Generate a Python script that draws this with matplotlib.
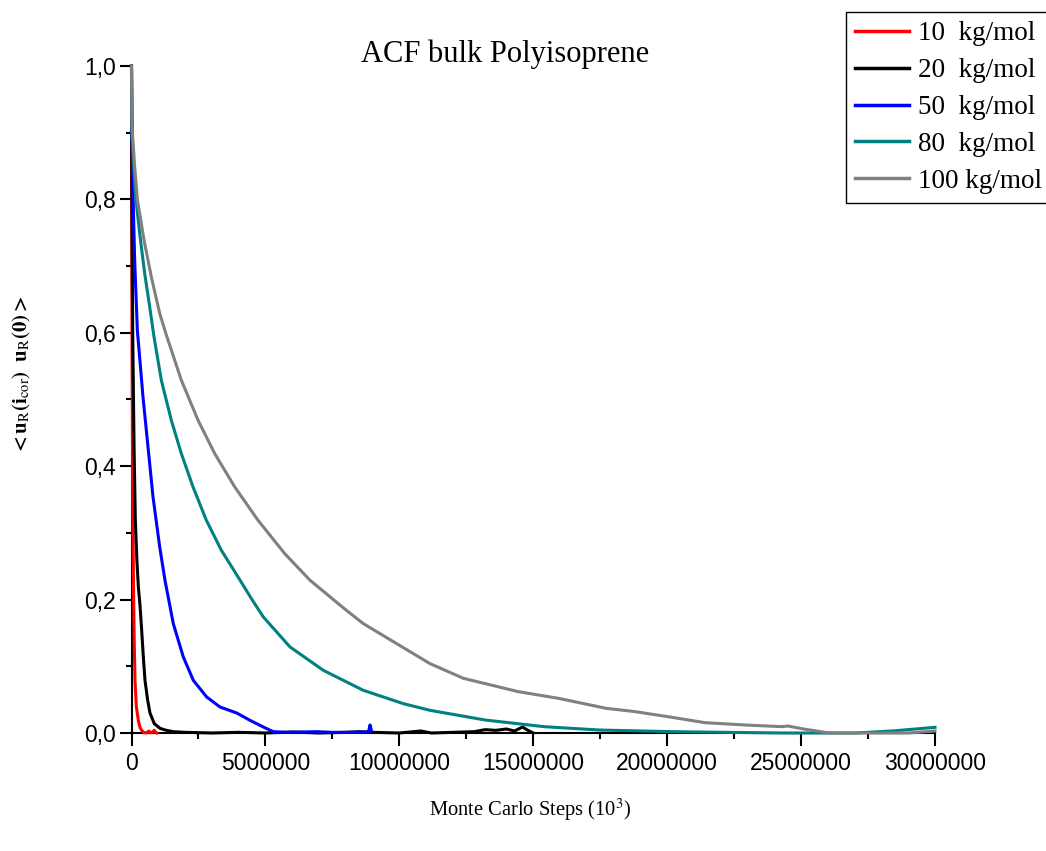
import numpy as np
import matplotlib
matplotlib.use('Agg')
import matplotlib.pyplot as plt
from matplotlib.ticker import FuncFormatter, MultipleLocator

plt.rcParams['font.family'] = ['Liberation Sans', 'DejaVu Sans']
plt.rcParams['mathtext.fontset'] = 'stix'

# ACF data (x in MC steps, y = autocorrelation)
x_10 = [0, 8000, 20000, 35000, 55000, 75000, 100000, 131000, 180000, 254000, 320000,
        380000, 450000, 550000, 650000, 700000, 800000, 850000, 900000, 940000]
y_10 = [1.0, 0.8, 0.6, 0.45, 0.3, 0.22, 0.14, 0.079, 0.04, 0.019, 0.008,
        0.004, 0.001, 0.0, 0.003, 0.0, 0.002, 0.004, 0.001, 0.0]

x_20 = [0, 10000, 25000, 45000, 95000, 143000, 200000, 254000, 320000, 380000, 440000,
        504000, 600000, 690000, 850000, 1064000, 1300000, 1560000, 2000000,
        3000000, 4000000, 5000000, 6000000, 7000000, 8000000, 8500000, 9000000, 10000000,
        10800000, 11200000, 12000000, 12800000, 13200000, 13600000, 14000000, 14300000,
        14600000, 14800000, 15000000]
y_20 = [1.0, 0.85, 0.72, 0.6, 0.43, 0.32, 0.26, 0.22, 0.19, 0.154, 0.115,
        0.079, 0.05, 0.03, 0.014, 0.007, 0.004, 0.002, 0.001,
        0.0, 0.001, 0.0, 0.0015, 0.0, 0.001, 0.002, 0.001, 0.0,
        0.003, 0.0, 0.001, 0.002, 0.005, 0.004, 0.006, 0.003,
        0.009, 0.004, 0.0]

x_50 = [0, 19000, 56000, 118000, 218000, 429000, 616000, 803000, 1053000,
        1250000, 1560000, 1934000, 2308000, 2807000, 3304000, 3927000, 4424000,
        4921000, 5294000, 5800000, 6913000, 7500000, 8500000, 8850000, 8905000, 8960000]
y_50 = [1.0, 0.894, 0.809, 0.709, 0.604, 0.504, 0.429, 0.354, 0.279,
        0.229, 0.164, 0.114, 0.079, 0.054, 0.039, 0.03, 0.019,
        0.009, 0.002, 0.001, 0.002, 0.001, 0.001, 0.002, 0.012, 0.003]

x_80 = [0, 19000, 142000, 305000, 492000, 679000, 840000, 1113000, 1486000, 1860000,
        2296000, 2794000, 3354000, 3977000, 4500000, 4921000, 5918000, 7162000, 8655000,
        10150000, 11145000, 13200000, 15400000, 17450000, 20180000, 24280000, 27000000,
        28400000, 30000000]
y_80 = [1.0, 0.894, 0.809, 0.749, 0.689, 0.639, 0.594, 0.529, 0.469, 0.419,
        0.369, 0.319, 0.274, 0.234, 0.2, 0.174, 0.129, 0.094, 0.064,
        0.044, 0.034, 0.0195, 0.0095, 0.0045, 0.002, 0.0, 0.0,
        0.003, 0.0085]

x_100 = [0, 19000, 118000, 220000, 467000, 739000, 1053000, 1290000, 1860000, 2483000,
         3106000, 3853000, 4723000, 5720000, 6665000, 7959000, 8655000, 9900000,
         11145000, 12390000, 14440000, 15940000, 17720000, 18810000, 20180000, 21410000,
         22910000, 24280000, 24500000, 25100000, 26050000, 27500000, 29000000, 30000000]
y_100 = [1.0, 0.909, 0.849, 0.8, 0.739, 0.684, 0.629, 0.598, 0.529, 0.469,
         0.419, 0.369, 0.319, 0.269, 0.229, 0.186, 0.164, 0.134,
         0.104, 0.082, 0.062, 0.052, 0.037, 0.032, 0.0235, 0.0155,
         0.012, 0.0095, 0.0105, 0.006, 0.0, 0.0, 0.0, 0.003]

labels = ['10  kg/mol', '20  kg/mol', '50  kg/mol', '80  kg/mol', '100 kg/mol']
colors = ['#ff0000', '#000000', '#0000ff', '#008080', '#808080']

fig = plt.figure(figsize=(10.46, 8.51), dpi=100)
ax = fig.add_axes([131.5/1046, 1-733/851, (935-131.5)/1046, (733-66)/851])

series = [(x_10, y_10), (x_20, y_20), (x_50, y_50), (x_80, y_80), (x_100, y_100)]
handles = []
for (xs, ys), lab, c in zip(series, labels, colors):
    h, = ax.plot(xs, ys, color=c, lw=2.2, label=lab, clip_on=False, zorder=3,
                 solid_joinstyle='round')
    handles.append(h)

ax.set_xlim(0, 30000000)
ax.set_ylim(0, 1.0)
ax.spines['top'].set_visible(False)
ax.spines['right'].set_visible(False)
for s in ['left', 'bottom']:
    ax.spines[s].set_linewidth(1.5)

ax.xaxis.set_major_locator(MultipleLocator(5000000))
ax.xaxis.set_minor_locator(MultipleLocator(2500000))
ax.yaxis.set_major_locator(MultipleLocator(0.2))
ax.yaxis.set_minor_locator(MultipleLocator(0.1))
ax.xaxis.set_major_formatter(FuncFormatter(lambda v, p: '%d' % v))
ax.yaxis.set_major_formatter(FuncFormatter(lambda v, p: ('%.1f' % v).replace('.', ',')))
ax.tick_params(which='major', direction='out', length=9, width=1.5, labelsize=16.5)
ax.tick_params(which='minor', direction='out', length=4.5, width=1.5)
ax.tick_params(axis='x', pad=5)
ax.tick_params(axis='y', pad=2)

fig.text(505/1046, 1-62/851, 'ACF bulk Polyisoprene', ha='center', va='baseline',
         fontsize=22, family='Liberation Serif')
fig.text(530/1046, 1-810/851, 'Monte Carlo Steps (10$^3$)', ha='center', va='center',
         fontsize=14.8, family='Liberation Serif')
fig.text(22/1046, 1-375/851,
         r'$\mathbf{<u}_{\mathrm{R}}\mathbf{(i}_{\mathrm{cor}}\mathbf{)\ \ u}_{\mathrm{R}}\mathbf{(0)>}$',
         rotation=90, ha='center', va='center', fontsize=15)

leg = fig.legend(handles=handles, loc='upper left', bbox_to_anchor=(846/1046, 1-12/851),
                 borderaxespad=0, fancybox=False, framealpha=1, edgecolor='black',
                 prop={'family': 'Liberation Serif', 'size': 19.5}, handlelength=2.0,
                 handletextpad=0.3, labelspacing=0.44, borderpad=0.34)
leg.get_frame().set_linewidth(1.0)
for l in leg.get_lines():
    l.set_linewidth(2.5)

fig.savefig('out.png', dpi=100)
